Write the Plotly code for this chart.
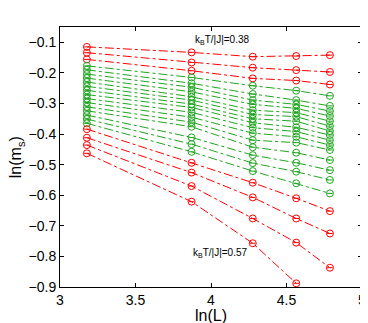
import numpy as np
import plotly.graph_objects as go

L = [24, 48, 72, 96, 120]
x_vals = list(np.log(L))

# ln(m_s) values per temperature line (top to bottom), one value per system size
red_top = [
    [-0.115, -0.133, -0.147, -0.145, -0.142],
    [-0.134, -0.166, -0.183, -0.191, -0.197],
    [-0.156, -0.193, -0.218, -0.225, -0.238],
]
green = [
    [-0.177, -0.215, -0.242, -0.258, -0.275],
    [-0.190, -0.234, -0.269, -0.289, -0.308],
    [-0.204, -0.247, -0.289, -0.303, -0.325],
    [-0.217, -0.262, -0.303, -0.316, -0.341],
    [-0.230, -0.278, -0.322, -0.330, -0.358],
    [-0.244, -0.289, -0.336, -0.343, -0.374],
    [-0.257, -0.302, -0.350, -0.358, -0.390],
    [-0.271, -0.313, -0.363, -0.378, -0.403],
    [-0.284, -0.329, -0.379, -0.392, -0.420],
    [-0.297, -0.345, -0.397, -0.409, -0.436],
    [-0.311, -0.361, -0.420, -0.428, -0.452],
    [-0.324, -0.376, -0.443, -0.461, -0.485],
    [-0.338, -0.411, -0.469, -0.494, -0.518],
    [-0.351, -0.433, -0.495, -0.523, -0.550],
    [-0.365, -0.458, -0.521, -0.561, -0.594],
]
red_bottom = [
    [-0.384, -0.494, -0.559, -0.610, -0.652],
    [-0.412, -0.526, -0.607, -0.676, -0.725],
    [-0.436, -0.570, -0.676, -0.755, -0.837],
    [-0.463, -0.621, -0.757, -0.888, None],
]

RED = "rgb(255,0,0)"
GREEN = "rgb(30,165,30)"

fig = go.Figure()

def add_line(vals, color):
    xs = [x for x, v in zip(x_vals, vals) if v is not None]
    ys = [v for v in vals if v is not None]
    fig.add_trace(go.Scatter(
        x=xs, y=ys, mode="lines+markers",
        line=dict(color=color, width=1, dash="dashdot"),
        marker=dict(symbol="circle-open", size=7, color=color, line=dict(width=1, color=color)),
        showlegend=False, hoverinfo="skip"))
    fig.add_trace(go.Scatter(
        x=xs, y=ys, mode="markers",
        marker=dict(symbol="line-ew-open", size=4, color=color, line=dict(width=1, color=color)),
        showlegend=False, hoverinfo="skip"))

for v in red_top:
    add_line(v, RED)
for v in green:
    add_line(v, GREEN)
for v in red_bottom:
    add_line(v, RED)

fig.add_annotation(x=3.88, y=-0.093, text="k<sub>B</sub>T/|J|=0.38", showarrow=False,
                   xanchor="left", yanchor="middle", font=dict(size=10, color="black"))
fig.add_annotation(x=3.87, y=-0.79, text="k<sub>B</sub>T/|J|=0.57", showarrow=False,
                   xanchor="left", yanchor="middle", font=dict(size=10, color="black"))

# axis titles
fig.add_annotation(xref="paper", yref="paper", x=0.5, y=-0.068, text="ln(L)", showarrow=False,
                   xanchor="center", yanchor="top", font=dict(size=16, color="black"))
fig.add_annotation(xref="paper", yref="paper", x=-0.145, y=0.5, text="ln(m<sub>s</sub>)",
                   showarrow=False, textangle=-90, xanchor="center", yanchor="middle",
                   font=dict(size=16, color="black"))

axis_common = dict(showline=True, linecolor="black", linewidth=1, mirror="ticks",
                   ticks="inside", ticklen=4, tickcolor="black", showgrid=False,
                   zeroline=False, automargin=False, tickfont=dict(size=14, color="black"))

fig.update_xaxes(range=[3, 5], tickvals=[3, 3.5, 4, 4.5, 5],
                 ticktext=["3", "3.5", "4", "4.5", "5"], **axis_common)
fig.update_yaxes(range=[-0.9, -0.05],
                 tickvals=[-0.9, -0.8, -0.7, -0.6, -0.5, -0.4, -0.3, -0.2, -0.1],
                 ticktext=["\u22120.9", "\u22120.8", "\u22120.7", "\u22120.6", "\u22120.5",
                           "\u22120.4", "\u22120.3", "\u22120.2", "\u22120.1"],
                 **axis_common)

# page body has an 8px margin, so the figure is sized to fit the 368x323 window
fig.update_layout(width=360, height=315, margin=dict(l=52, r=6, t=19, b=36, autoexpand=False),
                  paper_bgcolor="white", plot_bgcolor="white",
                  font=dict(family="Liberation Sans, Arial, sans-serif", color="black"))

fig.write_html("out.html")
